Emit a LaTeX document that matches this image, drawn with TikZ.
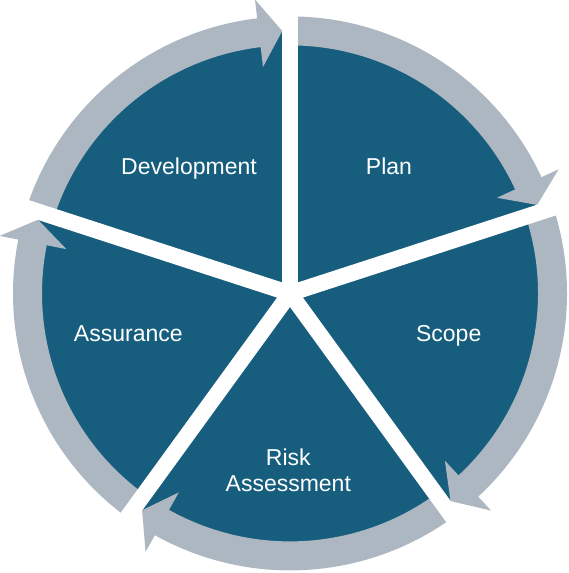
\documentclass[tikz,border=0pt]{standalone}
\usepackage{fontspec}
\setmainfont{Liberation Sans}
\definecolor{segblue}{HTML}{175E7E}
\definecolor{arrgrey}{HTML}{ADB7C2}
\tikzset{
  seglabel/.style={text=white, font=\fontsize{23}{27}\selectfont, anchor=base, inner sep=0pt},
  gapline/.style={draw=white, line width=16pt},
  cyclearrow/.style={fill=arrgrey}
}
\newcommand{\cyclearr}[2]{%
  % #1 start gap angle, #2 end gap angle (clockwise)
  \pgfmathsetmacro{\tipang}{#2+1.7}%
  \pgfmathsetmacro{\barbang}{#2+6.8}%
  \fill[cyclearrow] (#1:277pt) arc[start angle=#1, end angle=\barbang, radius=277pt]
    -- (\barbang:296pt) -- (\tipang:262.5pt) -- (\barbang:228pt) -- (\barbang:248pt)
    arc[start angle=\barbang, end angle=#1, radius=248pt] -- cycle;%
}
\begin{document}
\begin{tikzpicture}
\useasboundingbox (0pt,0pt) rectangle (568pt,573pt);
\fill[white] (0pt,0pt) rectangle (568pt,573pt);
\begin{scope}[shift={(290pt,279.6pt)}]
  \coordinate (C) at (0,0);
  \fill[segblue] (C) circle[radius=262pt];
  \cyclearr{162}{90}
  \cyclearr{90}{18}
  \cyclearr{18}{-54}
  \cyclearr{-54}{-126}
  \cyclearr{-126}{-198}
  \foreach \g in {90,18,-54,-126,162}{
    \coordinate (g\g) at (\g:305pt);
    \draw[gapline] (C) -- (g\g);
  }
\end{scope}
\node[seglabel] (dev) at (189pt,398pt) {Development};
\node[seglabel] (plan) at (389pt,398pt) {Plan};
\node[seglabel] (assur) at (128.3pt,231.3pt) {Assurance};
\node[seglabel] (scope) at (448.7pt,231.3pt) {Scope};
\node[seglabel] (risk1) at (288.3pt,107.3pt) {Risk};
\node[seglabel] (risk2) at (288.3pt,81.3pt) {Assessment};
\end{tikzpicture}
\end{document}
